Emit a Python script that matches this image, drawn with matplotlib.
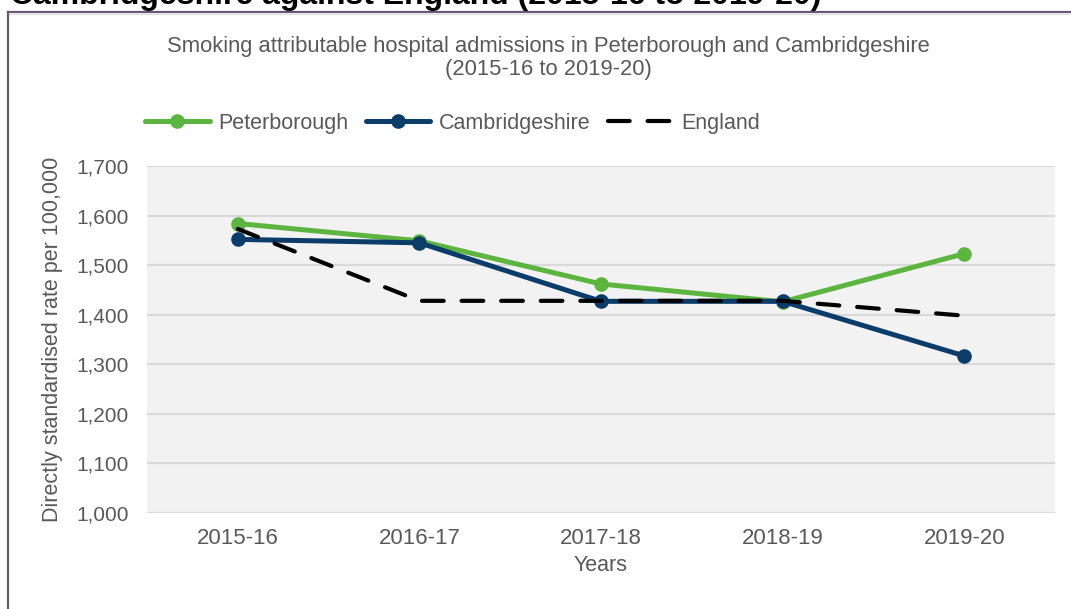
import matplotlib
matplotlib.use("Agg")
import matplotlib.pyplot as plt
from matplotlib.lines import Line2D

plt.rcParams['font.family'] = ['Liberation Sans', 'DejaVu Sans']

years = ["2015-16", "2016-17", "2017-18", "2018-19", "2019-20"]
peterborough = [1584, 1549, 1462, 1426, 1523]
cambridgeshire = [1552, 1545, 1427, 1427, 1317]
england = [1573, 1428, 1428, 1428, 1398]
yticks = [1000, 1100, 1200, 1300, 1400, 1500, 1600, 1700]

GREEN = "#5BB53F"
NAVY = "#0B3C6A"
GREY_TXT = "#595959"

W, H = 1071, 609
fig = plt.figure(figsize=(W / 100, H / 100), dpi=100)
fig.patch.set_facecolor("white")

# outer frame
fig.add_artist(Line2D([8 / W, 8 / W], [0, 1 - 12 / H], color="#6B5773", lw=1.6))
fig.add_artist(Line2D([8 / W, 1], [1 - 12 / H, 1 - 12 / H], color="#6B5773", lw=1.6))
fig.add_artist(Line2D([9 / W, 1], [1 - 14 / H, 1 - 14 / H], color="#DDDDDD", lw=0.8))

# clipped heading at top
fig.text(10 / W, 1 - 4 / H, "Cambridgeshire against England (2015-16 to 2019-20)",
         fontsize=23, fontweight="bold", color="black", ha="left", va="baseline")

ax = fig.add_axes([147 / W, 1 - 513 / H, 908 / W, 347 / H])
ax.set_facecolor("#F2F2F2")
x = list(range(len(years)))

ax.plot(x, peterborough, color=GREEN, lw=3.6, marker="o", ms=9.5,
        solid_capstyle="round", label="Peterborough", zorder=3)
ax.plot(x, cambridgeshire, color=NAVY, lw=3.6, marker="o", ms=9.5,
        solid_capstyle="round", label="Cambridgeshire", zorder=4)
ax.plot(x, england, color="black", lw=3.0, dashes=(5.2, 4.3),
        dash_capstyle="round", label="England", zorder=5)

ax.set_xlim(-0.5, len(years) - 0.5)
ax.set_ylim(1000, 1700)
ax.set_yticks(yticks)
ax.set_yticklabels([f"{v:,}" for v in yticks])
ax.set_xticks(x)
ax.set_xticklabels(years)
ax.grid(axis="y", color="#D9D9D9", lw=1.5)
ax.set_axisbelow(True)
for s in ax.spines.values():
    s.set_visible(False)
ax.tick_params(axis="both", length=0, colors=GREY_TXT)
ax.tick_params(axis="y", pad=13, labelsize=15)
ax.tick_params(axis="x", pad=11, labelsize=16)

ax.set_xlabel("Years", fontsize=15.5, color=GREY_TXT, labelpad=4)
ax.set_ylabel("Directly standardised rate per 100,000", fontsize=15.5,
              color=GREY_TXT, labelpad=10)

fig.text(548 / W, 1 - 58 / H,
         "Smoking attributable hospital admissions in Peterborough and Cambridgeshire\n(2015-16 to 2019-20)",
         ha="center", va="center", fontsize=15.8, color=GREY_TXT, linespacing=1.1)

leg = ax.legend(loc="center left", bbox_to_anchor=(145 / W, 1 - 123 / H),
                bbox_transform=fig.transFigure, ncol=3, frameon=False,
                fontsize=15.5, handlelength=3.0, handletextpad=0.4,
                columnspacing=0.8, borderpad=0, borderaxespad=0)
for t in leg.get_texts():
    t.set_color(GREY_TXT)

fig.savefig("out.png", dpi=100)
